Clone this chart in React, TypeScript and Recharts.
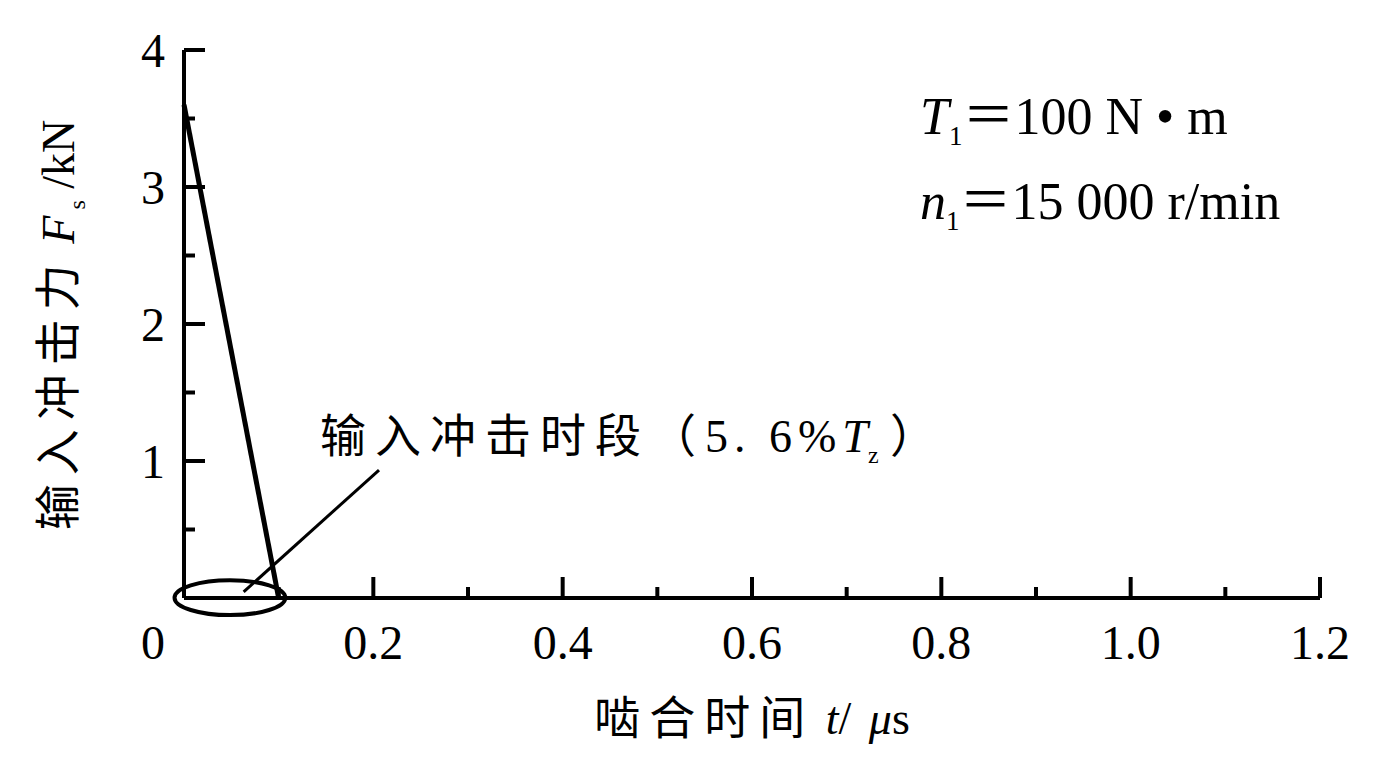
import { LineChart, XAxis, YAxis, Line, ReferenceArea, ReferenceLine } from "recharts"

// 输入冲击力随啮合时间变化（线性衰减）
const timeUs = [0, 0.1]
const forceKN = [3.6, 0]

const xTicks = [0, 0.1, 0.2, 0.3, 0.4, 0.5, 0.6, 0.7, 0.8, 0.9, 1.0, 1.1, 1.2]
const yTicks = [0, 0.5, 1, 1.5, 2, 2.5, 3, 3.5, 4]

// 冲击时段的椭圆标注范围
const impactSpanT = [-0.01, 0.107]
const impactSpanF = [-0.125, 0.13]
const leader = [
    { x: 0.063, y: 0.044 },
    { x: 0.206, y: 0.934 },
]

const data = timeUs.map((t, i) => ({ t, F: forceKN[i] }))

const serif = "'Liberation Serif', 'Times New Roman', 'Noto Sans CJK SC', serif"
const cjk = "'Liberation Serif', 'Noto Sans CJK SC', serif"

const XTick = (props: any) => {
    const { x, y, payload } = props
    const v = payload.value
    const major = Math.round(v * 10) % 2 === 0
    return (
        <g>
            {v !== 0 && (
                <line x1={x} y1={y} x2={x} y2={y - (major ? 21 : 11)} stroke="#000" strokeWidth={4} />
            )}
            {major && (
                <text x={v === 0 ? x - 31 : x} y={y + 44} textAnchor="middle" dominantBaseline="central"
                    fontFamily={serif} fontSize={48} fill="#000">
                    {v === 0 ? "0" : v.toFixed(1)}
                </text>
            )}
        </g>
    )
}

const YTick = (props: any) => {
    const { x, y, payload } = props
    const v = payload.value
    if (v === 0) return <g />
    const major = Number.isInteger(v)
    return (
        <g>
            <line x1={x} y1={y} x2={x + (major ? 21 : 11)} y2={y} stroke="#000" strokeWidth={4} />
            {major && (
                <text x={x - 19} y={y} textAnchor="end" dominantBaseline="central"
                    fontFamily={serif} fontSize={48} fill="#000">
                    {v}
                </text>
            )}
        </g>
    )
}

const Ellipse = (props: any) => {
    const { x, y, width, height } = props
    return (
        <ellipse cx={x + width / 2} cy={y + height / 2} rx={width / 2} ry={height / 2}
            fill="none" stroke="#000" strokeWidth={4} />
    )
}

const cn = { letterSpacing: 9 }

export default function App() {
    return (
        <div style={{ position: "absolute", left: 0, top: 0, width: 1373, height: 757, background: "#fff" }}>
            <LineChart width={1373} height={757} data={data}
                margin={{ top: 50, right: 53, bottom: 99, left: 124 }}>
                <XAxis dataKey="t" type="number" domain={[0, 1.2]} ticks={xTicks} interval={0}
                    height={60} tickSize={0} tickMargin={0} tickLine={false} tick={XTick}
                    axisLine={{ stroke: "#000", strokeWidth: 4 }} />
                <YAxis type="number" domain={[0, 4]} ticks={yTicks} interval={0}
                    width={60} tickSize={0} tickMargin={0} tickLine={false} tick={YTick}
                    axisLine={{ stroke: "#000", strokeWidth: 4 }} />
                <ReferenceArea x1={impactSpanT[0]} x2={impactSpanT[1]} y1={impactSpanF[0]} y2={impactSpanF[1]}
                    ifOverflow="visible" shape={Ellipse} />
                <ReferenceLine segment={leader} ifOverflow="visible" stroke="#000" strokeWidth={3} />
                <Line dataKey="F" type="linear" stroke="#000" strokeWidth={5} dot={false}
                    isAnimationActive={false} />
            </LineChart>

            <div style={{
                position: "absolute", left: 56, top: 325, transform: "translate(-50%, -50%) rotate(-90deg)",
                whiteSpace: "nowrap", fontFamily: cjk, fontSize: 46, color: "#000",
            }}>
                <span style={cn}>输入冲击力</span> <i>F</i><sub style={{ fontSize: 24 }}> s</sub> /kN
            </div>

            <div style={{
                position: "absolute", left: 752, top: 714, transform: "translate(-50%, -50%)",
                whiteSpace: "nowrap", fontFamily: cjk, fontSize: 46, color: "#000",
            }}>
                <span style={cn}>啮合时间</span> <i>t</i><span style={{ letterSpacing: 3 }}>/ </span><i>μ</i>s
            </div>

            <div style={{
                position: "absolute", left: 320, top: 434, transform: "translateY(-50%)",
                whiteSpace: "nowrap", fontFamily: cjk, fontSize: 46, color: "#000",
            }}>
                <span style={cn}>输入冲击时段（</span><span style={{ letterSpacing: 6 }}>5. 6%</span><i>T</i><sub style={{ fontSize: 24 }}>z</sub> ）
            </div>

            <div style={{
                position: "absolute", left: 920, top: 84, whiteSpace: "nowrap",
                fontFamily: serif, fontSize: 52, lineHeight: "66px", color: "#000",
            }}>
                <div><i>T</i><sub style={{ fontSize: 27 }}>1</sub>＝100 N • m</div>
                <div><i>n</i><sub style={{ fontSize: 27 }}>1</sub>＝15 000 r/min</div>
            </div>
        </div>
    )
}
